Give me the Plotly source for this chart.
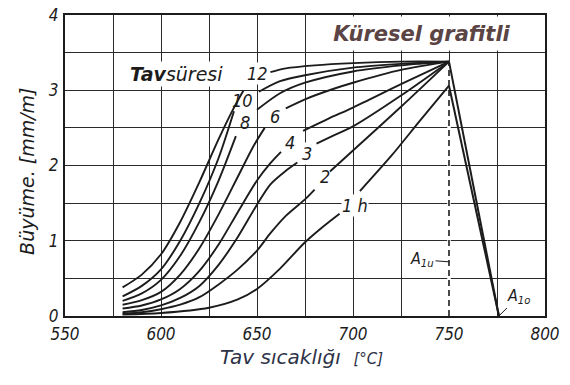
import plotly.graph_objects as go

# Annealing temperature (°C) and growth (mm/m) for each annealing time.
# None marks the break where the curve's time label sits.
t_12 = [580, 590, 600, 610, 620, 630, 637, 643, 650, 657, 665, 680, 700, 725, 750]
g_12 = [0.38, 0.55, 0.82, 1.25, 1.78, 2.35, 2.72, 3.0, None, 3.24, 3.29, 3.33, 3.36, 3.38, 3.38]

t_10 = [580, 590, 600, 610, 620, 630, 638, 645, 651, 662, 675, 700, 725, 750]
g_10 = [0.26, 0.40, 0.62, 1.0, 1.5, 2.1, 2.72, None, 2.98, 3.12, 3.2, 3.3, 3.35, 3.38]

t_8 = [580, 590, 600, 610, 620, 630, 639, 645, 650, 662, 675, 700, 725, 750]
g_8 = [0.20, 0.30, 0.48, 0.80, 1.25, 1.8, 2.39, None, 2.74, 2.96, 3.1, 3.25, 3.33, 3.38]

t_6 = [580, 590, 600, 610, 620, 630, 640, 648, 654, 660, 665, 675, 690, 700, 725, 750]
g_6 = [0.15, 0.21, 0.32, 0.55, 0.90, 1.35, 1.85, 2.25, 2.5, None, 2.76, 2.88, 3.02, 3.1, 3.27, 3.38]

t_4 = [580, 590, 600, 610, 620, 630, 640, 650, 657, 662.5, 668, 674, 687, 700, 725, 750]
g_4 = [0.10, 0.14, 0.22, 0.36, 0.60, 0.95, 1.38, 1.8, 2.03, 2.18, None, 2.46, 2.62, 2.77, 3.08, 3.38]

t_3 = [580, 590, 600, 610, 620, 630, 640, 650, 657, 665, 671, 676, 681, 690, 700, 725, 750]
g_3 = [0.05, 0.08, 0.14, 0.24, 0.40, 0.68, 1.05, 1.48, 1.75, 1.93, 2.04, None, 2.29, 2.4, 2.52, 2.93, 3.38]

t_2 = [580, 590, 600, 610, 620, 630, 640, 650, 657, 665, 675, 680, 684, 688, 700, 725, 750]
g_2 = [0.03, 0.05, 0.09, 0.15, 0.25, 0.42, 0.62, 0.87, 1.1, 1.33, 1.55, 1.68, None, 1.92, 2.2, 2.78, 3.38]

t_1 = [580, 600, 625, 640, 650, 662, 675, 685, 693, 698, 703.6, 720, 735, 750]
g_1 = [0.02, 0.04, 0.11, 0.22, 0.36, 0.63, 0.98, 1.2, 1.36, None, 1.66, 2.13, 2.6, 3.06]

# Peak at the lower transformation point, drop to zero at the upper one
A1u_T = 750
A1o_T = 776
peak_hi = 3.38
peak_lo = 3.06
A1u_mark = 0.72

# Time labels on the curves (those lying on a grid line get a white backing)
label_text = ["12", "10", "8", "6", "4", "3", "2", "1 h"]
label_T = [650.5, 642.7, 643.8, 659.4, 667.2, 675.9, 685.4, 701.0]
label_y = [3.22, 2.87, 2.57, 2.65, 2.31, 2.16, 1.86, 1.47]
label_backed = [True, False, False, False, False, True, False, True]

x_ticks = [550, 600, 650, 700, 750, 800]
y_ticks = [0, 1, 2, 3, 4]

INK = "#1c1c1c"
NARROW = "Liberation Sans Narrow, DejaVu Sans Condensed, Liberation Sans, sans-serif"
HAND = "DejaVu Sans, sans-serif"

fig = go.Figure()

# dashed A1u line replaces the solid grid line at 750 °C below the peak
fig.add_trace(go.Scatter(x=[A1u_T, A1u_T], y=[0, peak_hi], mode="lines",
                         line=dict(color="white", width=3.5),
                         hoverinfo="skip", showlegend=False))
fig.add_trace(go.Scatter(x=[A1u_T, A1u_T], y=[0, peak_hi], mode="lines",
                         line=dict(color=INK, width=1.6, dash="6px,4px"),
                         hoverinfo="skip", showlegend=False))

curves = [(t_12, g_12), (t_10, g_10), (t_8, g_8), (t_6, g_6),
          (t_4, g_4), (t_3, g_3), (t_2, g_2), (t_1, g_1)]
for t, g in curves:
    fig.add_trace(go.Scatter(x=t, y=g, mode="lines", connectgaps=False,
                             line=dict(color=INK, width=1.9, shape="spline", smoothing=0.8),
                             hoverinfo="skip", showlegend=False))

# drop above A1u
for top in (peak_hi, peak_lo):
    fig.add_trace(go.Scatter(x=[A1u_T, A1o_T], y=[top, 0], mode="lines",
                             line=dict(color=INK, width=2.0),
                             hoverinfo="skip", showlegend=False))

ann = []
for txt, tx, ty, backed in zip(label_text, label_T, label_y, label_backed):
    ann.append(dict(x=tx, y=ty, xref="x", yref="y", text=txt, showarrow=False,
                    font=dict(family=NARROW, size=18, color=INK, style="italic"),
                    bgcolor="white" if backed else "rgba(0,0,0,0)", borderpad=0))

ann.append(dict(x=608.3, y=3.22, xref="x", yref="y", text="<b>Tav</b>süresi",
                showarrow=False, bgcolor="white", borderpad=1,
                font=dict(family=HAND, size=19, color=INK, style="italic")))
ann.append(dict(x=735.9, y=3.756, xref="x", yref="y", text="<b>Küresel grafitli</b>",
                showarrow=False, bgcolor="white", width=218, height=31,
                font=dict(family=HAND, size=21, color="#5b4444", style="italic")))

ann.append(dict(x=A1u_T, y=A1u_mark, xref="x", yref="y", text="A<sub>1u</sub>",
                showarrow=True, arrowhead=0, arrowwidth=1, arrowcolor=INK,
                ax=-27, ay=-2, font=dict(family=NARROW, size=16, color=INK, style="italic")))
ann.append(dict(x=A1o_T, y=0, xref="x", yref="y", text="A<sub>1o</sub>",
                showarrow=True, arrowhead=0, arrowwidth=1, arrowcolor=INK,
                ax=20, ay=-20, font=dict(family=NARROW, size=16, color=INK, style="italic")))

# axis titles
ann.append(dict(x=-0.079, y=0.479, xref="paper", yref="paper", textangle=-90,
                xanchor="center", yanchor="middle",
                text="Büyüme. [mm/m]", showarrow=False,
                font=dict(family=HAND, size=19, color=INK, style="italic")))
ann.append(dict(x=0.492, y=-0.137, xref="paper", yref="paper",
                xanchor="center", yanchor="middle",
                text="Tav sıcaklığı  <span style='font-size:15px'>[°C]</span>", showarrow=False,
                font=dict(family=HAND, size=20, color="#2e3347", style="italic")))

grid = dict(showgrid=True, gridcolor="#2a2a2a", gridwidth=1.3)
tickfont = dict(family=NARROW, size=17, color=INK, style="italic")

fig.update_layout(
    width=570, height=385,
    margin=dict(l=65, r=25, t=5, b=69),
    paper_bgcolor="white", plot_bgcolor="white",
    annotations=ann,
    xaxis=dict(range=[550, 800], tickvals=x_ticks, ticks="", zeroline=False,
               showline=True, mirror=True, linecolor=INK, linewidth=2,
               minor=dict(dtick=25, tick0=550, **grid), **grid,
               ticklabelstandoff=2, ticklabeloverflow="allow", tickfont=tickfont),
    yaxis=dict(range=[0, 4], tickvals=y_ticks, ticks="", zeroline=False,
               showline=True, mirror=True, linecolor=INK, linewidth=2,
               minor=dict(dtick=0.5, tick0=0, **grid), **grid,
               ticklabelstandoff=1, ticklabeloverflow="allow", tickfont=tickfont),
)

fig.write_html("out.html")
